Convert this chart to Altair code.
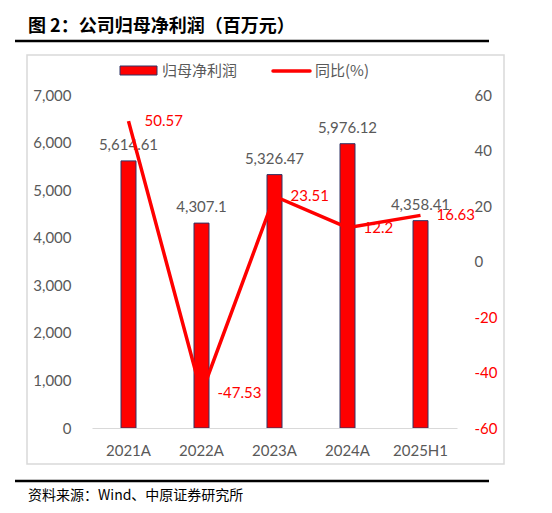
import altair as alt
import pandas as pd

categories = ["2021A", "2022A", "2023A", "2024A", "2025H1"]
profit = [5614.61, 4307.1, 5326.47, 5976.12, 4358.41]
yoy = [50.57, -47.53, 23.51, 12.2, 16.63]

title_text = "图 2：公司归母净利润（百万元）"
source_text = "资料来源：Wind、中原证券研究所"
bar_name = "归母净利润"
line_name = "同比(%)"

df = pd.DataFrame({"cat": categories, "profit": profit, "yoy": yoy})
one = alt.Data(values=[{"a": 1}])

FONT = "Lato, Noto Sans CJK SC"
CJK = "Noto Sans CJK SC"
GRAY = "#595959"
RED = "#FF0000"

xaxis = alt.Axis(labelFont=FONT, labelFontSize=15, labelColor=GRAY,
                 labelPadding=15, ticks=False, domainColor="#d9d9d9",
                 domainWidth=1, labelAngle=0, zindex=2)
xenc = alt.X("cat:N", sort=categories, title=None,
             scale=alt.Scale(paddingInner=0, paddingOuter=0), axis=xaxis)

base = alt.Chart(df)

ybar = alt.Y("profit:Q", title=None,
             scale=alt.Scale(domain=[0, 7000], nice=False),
             axis=alt.Axis(orient="left", values=list(range(0, 7001, 1000)),
                           format=",.0f", grid=False, ticks=False, domain=False,
                           labelFont=FONT, labelFontSize=15, labelColor=GRAY,
                           labelPadding=21, zindex=2))
bars = base.mark_bar(size=15, color=RED, stroke="#2e3466", strokeWidth=1).encode(
    x=xenc, y=ybar)
bar_labels = base.mark_text(baseline="bottom", dy=-8, font=FONT, fontSize=15,
                            color=GRAY).encode(
    x=xenc, y=ybar, text=alt.Text("profit:Q", format=","))
bar_layer = alt.layer(bars, bar_labels)

yline = alt.Y("yoy:Q", title=None,
              scale=alt.Scale(domain=[-60, 60], nice=False),
              axis=alt.Axis(orient="right", values=list(range(-60, 61, 20)),
                            grid=False, ticks=False, domain=False,
                            labelFont=FONT, labelFontSize=15,
                            labelExpr="'' + datum.value",
                            labelColor={"expr": "datum.value < 0 ? '#FF0000' : '#595959'"},
                            labelAlign="left", labelPadding=17, zindex=2))
line = base.mark_line(color=RED, strokeWidth=3.5).encode(x=xenc, y=yline)
line_labels = base.transform_calculate(lbl="'' + datum.yoy").mark_text(
    align="left", baseline="middle", dx=16, font=FONT, fontSize=15, color=RED).encode(
    x=xenc, y=yline, text="lbl:N")
line_layer = alt.layer(line, line_labels)

# decorations (positions in pixels relative to the plot area)
frame = alt.Chart(one).mark_rect(fill="white", fillOpacity=0, stroke="#d9d9d9",
                                 strokeWidth=1.5).encode(
    x=alt.value(-65), x2=alt.value(412), y=alt.value(-40), y2=alt.value(369))
top_rule = alt.Chart(one).mark_rule(color="#a31515", strokeWidth=1.5).encode(
    x=alt.value(-92), x2=alt.value(460), y=alt.value(-90))
title_mark = alt.Chart(one).mark_text(align="left", baseline="middle", font=CJK,
                                      fontSize=18, fontWeight="bold", color="black").encode(
    x=alt.value(-64), y=alt.value(-68), text=alt.value(title_text))
rule1 = alt.Chart(one).mark_rule(color="black", strokeWidth=2.5).encode(
    x=alt.value(-77), x2=alt.value(397), y=alt.value(-54))
rule2 = alt.Chart(one).mark_rule(color="black", strokeWidth=2.5).encode(
    x=alt.value(-77), x2=alt.value(397), y=alt.value(386))
src = alt.Chart(one).mark_text(align="left", baseline="middle", font=CJK,
                               fontSize=14, color="black").encode(
    x=alt.value(-64), y=alt.value(401), text=alt.value(source_text))

leg_rect = alt.Chart(one).mark_rect(fill=RED, stroke="#2e3466", strokeWidth=1).encode(
    x=alt.value(28), x2=alt.value(65), y=alt.value(-29), y2=alt.value(-20))
leg_t1 = alt.Chart(one).mark_text(align="left", baseline="middle", font=CJK,
                                  fontSize=15, color=GRAY).encode(
    x=alt.value(70), y=alt.value(-24), text=alt.value(bar_name))
leg_line = alt.Chart(one).mark_rule(color=RED, strokeWidth=3.5, strokeCap="round").encode(
    x=alt.value(181), x2=alt.value(218), y=alt.value(-24))
leg_t2 = alt.Chart(one).mark_text(align="left", baseline="middle", font=CJK,
                                  fontSize=15, color=GRAY).encode(
    x=alt.value(223), y=alt.value(-24), text=alt.value(line_name))

chart = alt.layer(
    frame, top_rule, title_mark, rule1, rule2, src,
    bar_layer, line_layer,
    leg_rect, leg_t1, leg_line, leg_t2,
).resolve_scale(y="independent").properties(
    width=365, height=333,
    padding={"left": 84, "top": 87, "right": 87, "bottom": 77},
    autosize=alt.AutoSizeParams(type="none"),
).configure_view(stroke=None)

chart.save("out.html", embed_options={"renderer": "svg", "actions": False})
